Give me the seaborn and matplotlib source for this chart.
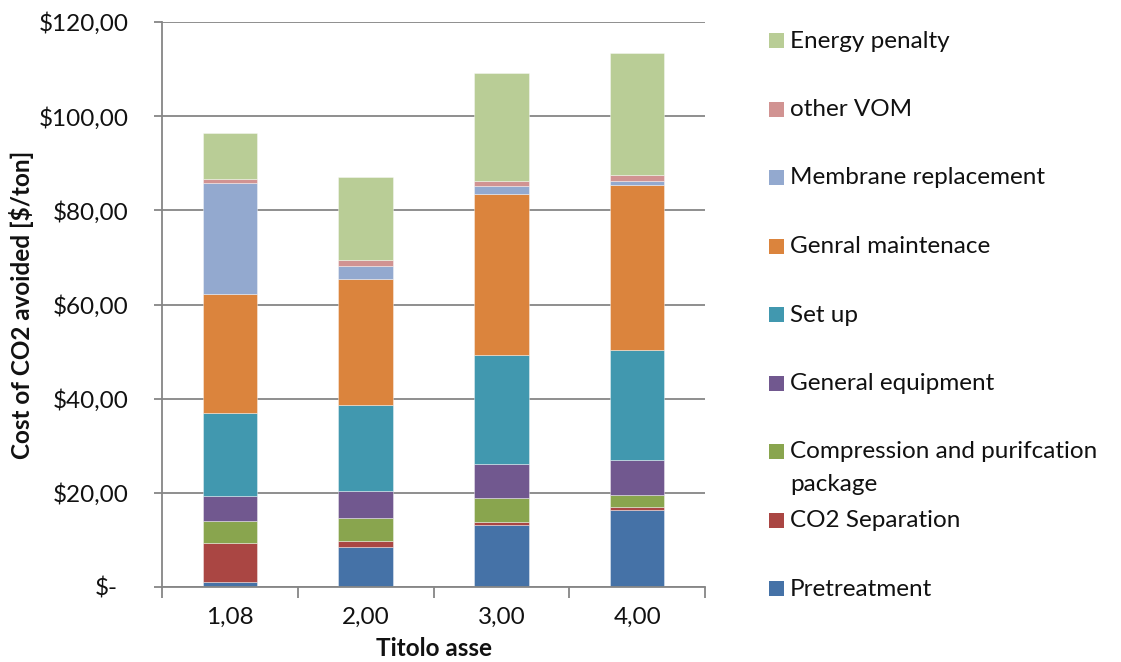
import numpy as np
import pandas as pd
import matplotlib
matplotlib.use("Agg")
import matplotlib.pyplot as plt
import seaborn as sns
from matplotlib.patches import Rectangle
from matplotlib.transforms import ScaledTranslation

# Cost breakdown of CO2 avoided, stacked bottom to top
categories = ["1,08", "2,00", "3,00", "4,00"]
pretreatment = [1.1, 8.6, 13.1, 16.3]
co2_separation = [8.3, 1.2, 0.7, 0.6]
compression_purification = [4.6, 4.9, 5.2, 2.6]
general_equipment = [5.4, 5.7, 7.1, 7.4]
set_up = [17.5, 18.3, 23.2, 23.5]
general_maintenance = [25.4, 26.7, 34.2, 34.9]
membrane_replacement = [23.4, 2.8, 1.6, 1.0]
other_vom = [1.0, 1.2, 1.2, 1.2]
energy_penalty = [9.7, 17.6, 22.9, 25.9]

series_names = [
    "Pretreatment",
    "CO2 Separation",
    "Compression and purifcation\npackage",
    "General equipment",
    "Set up",
    "Genral maintenace",
    "Membrane replacement",
    "other VOM",
    "Energy penalty",
]
series_values = [
    pretreatment, co2_separation, compression_purification, general_equipment,
    set_up, general_maintenance, membrane_replacement, other_vom, energy_penalty,
]
series_colors = [
    "#4572A7", "#AA4643", "#89A54E", "#71588F", "#4198AF",
    "#DB843D", "#93A9CF", "#D19392", "#B9CD96",
]
y_ticks = [0, 20, 40, 60, 80, 100, 120]
y_tick_labels = ["$-", "$20,00", "$40,00", "$60,00", "$80,00", "$100,00", "$120,00"]

sns.set_style("white")
plt.rcParams["font.family"] = ["Lato", "DejaVu Sans"]
FS = 17.5
GRAY = "#868686"
TEXT = "#111111"

W, H = 1121, 662
fig = plt.figure(figsize=(W / 100, H / 100), dpi=100)
ax = fig.add_axes([162 / W, 1 - 587 / H, (705 - 162) / W, (587 - 22) / H])

bottom = np.zeros(len(categories))
for name, vals, color in zip(series_names, series_values, series_colors):
    sns.barplot(x=categories, y=vals, order=categories, color=color,
                saturation=1, width=0.4, bottom=bottom, ax=ax,
                edgecolor=(1, 1, 1, 0.45), linewidth=0.6, errorbar=None)
    bottom = bottom + np.asarray(vals)

ax.set_xlim(-0.5, len(categories) - 0.5)
ax.set_ylim(0, 120)
ax.set_yticks(y_ticks)
ax.set_yticklabels(y_tick_labels)
ax.yaxis.grid(True, color=GRAY, linewidth=1.3)
ax.xaxis.grid(False)
ax.set_axisbelow(True)

for side in ["top", "right"]:
    ax.spines[side].set_visible(False)
for side in ["left", "bottom"]:
    ax.spines[side].set_color(GRAY)
    ax.spines[side].set_linewidth(1.3)

ax.tick_params(axis="y", which="major", direction="out", length=6, width=1.3,
               color=GRAY, labelsize=FS, labelcolor=TEXT, pad=18, left=True)
ax.set_xticks(np.arange(-0.5, len(categories), 1.0), minor=True)
ax.tick_params(axis="x", which="minor", direction="out", length=8, width=1.3,
               color=GRAY, bottom=True)
ax.tick_params(axis="x", which="major", length=0, labelsize=FS,
               labelcolor=TEXT, pad=14)

# "$-" sits further left in accounting format
zero_label = ax.get_yticklabels()[0]
zero_label.set_transform(zero_label.get_transform()
                         + ScaledTranslation(-0.11, 0, fig.dpi_scale_trans))

ax.set_xlabel("Titolo asse", fontsize=FS, fontweight="bold", color=TEXT)
ax.xaxis.set_label_coords(0.5, -(648 - 587) / 565)
ax.xaxis.label.set_va("center")
ax.set_ylabel("Cost of CO2 avoided [$/ton]", fontsize=FS, fontweight="bold",
              color=TEXT)
ax.yaxis.set_label_coords(-(162 - 22) / 543, 0.5)
ax.yaxis.label.set_va("center")

# Legend, listed top to bottom in reverse stacking order
legend_top = 40.5
legend_step = 68.5
for i, (name, color) in enumerate(zip(series_names[::-1], series_colors[::-1])):
    yc = legend_top + i * legend_step
    fig.patches.append(Rectangle((769 / W, 1 - (yc + 7.5) / H), 15 / W, 15 / H,
                                 transform=fig.transFigure, facecolor=color,
                                 edgecolor="none"))
    fig.text(790 / W, 1 - (yc - 10) / H, name, fontsize=FS, va="top",
             ha="left", linespacing=1.68, color=TEXT)

fig.savefig("out.png", dpi=100)
